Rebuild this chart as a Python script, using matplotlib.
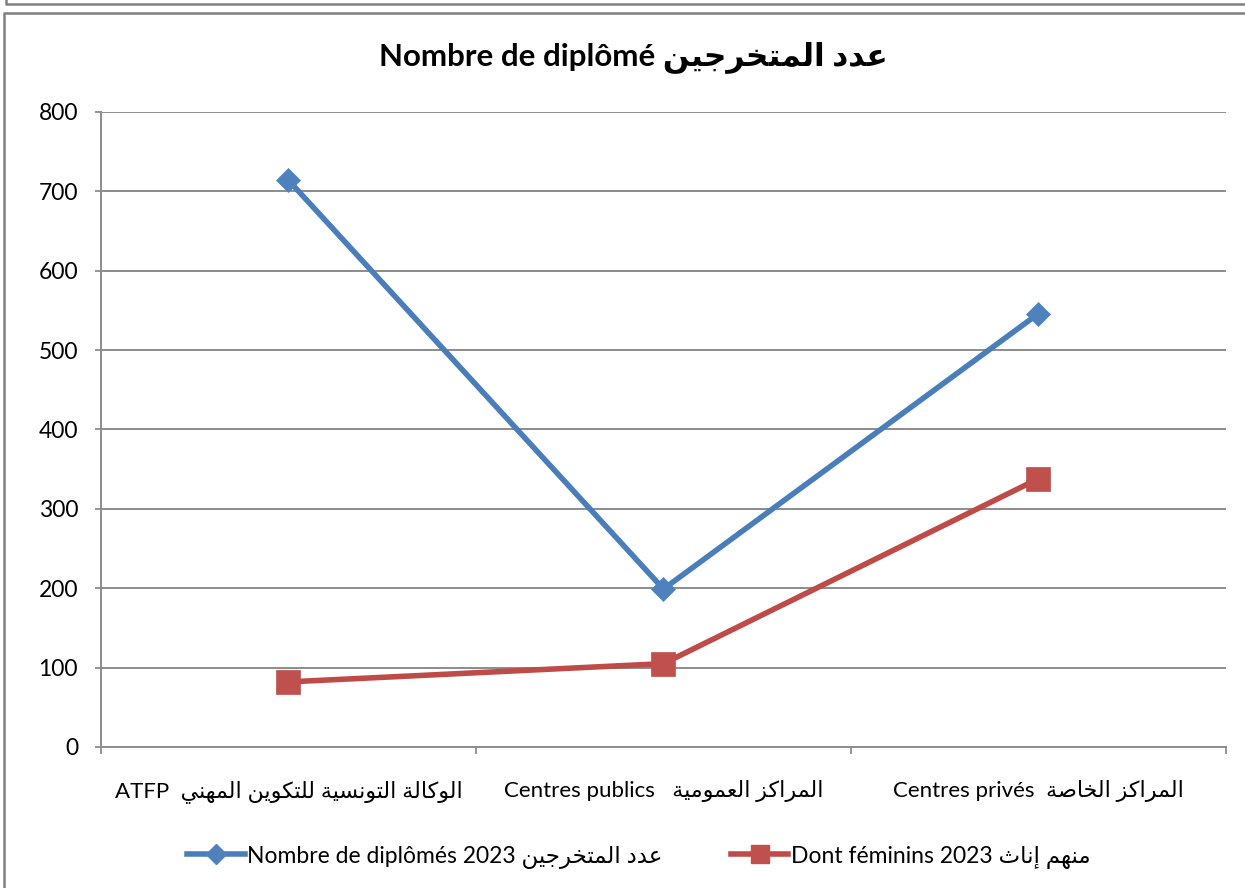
import matplotlib
matplotlib.use("Agg")
import matplotlib.pyplot as plt
from matplotlib.lines import Line2D
import numpy as np

plt.rcParams['font.family'] = ['Lato', 'DejaVu Sans']

# data
categories_fr = ["ATFP", "Centres publics", "Centres privés"]
categories_ar = ["الوكالة التونسية للتكوين المهني", "المراكز العمومية", "المراكز الخاصة"]
diplomes = [714, 199, 546]
feminins = [82, 105, 338]
y_ticks = [0, 100, 200, 300, 400, 500, 600, 700, 800]
title_fr = "Nombre de diplômé"
title_ar = "عدد المتخرجين"
legend_fr = ["Nombre de diplômés 2023", "Dont féminins 2023"]
legend_ar = ["عدد المتخرجين", "منهم إناث"]

# arabic shaping by hand (presentation forms), no reshaper available
FORMS = {
    'ا': (0xFE8D, 2), 'إ': (0xFE87, 2), 'ة': (0xFE93, 2), 'د': (0xFEA9, 2),
    'ر': (0xFEAD, 2), 'ز': (0xFEAF, 2), 'و': (0xFEED, 2),
    'ت': (0xFE95, 4), 'ث': (0xFE99, 4), 'ج': (0xFE9D, 4), 'خ': (0xFEA5, 4),
    'س': (0xFEB1, 4), 'ص': (0xFEB9, 4), 'ع': (0xFEC9, 4), 'ك': (0xFED9, 4),
    'ل': (0xFEDD, 4), 'م': (0xFEE1, 4), 'ن': (0xFEE5, 4), 'ه': (0xFEE9, 4),
    'ي': (0xFEF1, 4),
}


def shape(txt):
    out = []
    for i, c in enumerate(txt):
        if c not in FORMS:
            out.append(c)
            continue
        base, n = FORMS[c]
        prev = txt[i - 1] if i > 0 else ''
        nxt = txt[i + 1] if i + 1 < len(txt) else ''
        j_prev = prev in FORMS and FORMS[prev][1] == 4
        j_next = n == 4 and nxt in FORMS
        if j_prev and j_next:
            code = base + 3
        elif j_prev:
            code = base + 1
        elif j_next:
            code = base + 2
        else:
            code = base
        out.append(chr(code))
    return ''.join(out)[::-1]


xlabels = [
    categories_fr[0] + "  " + shape(categories_ar[0]),
    categories_fr[1] + "   " + shape(categories_ar[1]),
    categories_fr[2] + "  " + shape(categories_ar[2]),
]

blue = '#4A7EBB'
red = '#BE4B48'
grid = '#8C8C8C'

fig = plt.figure(figsize=(12.45, 8.88), dpi=100)
ax = fig.add_axes([0.0811, 0.1588, 0.9036, 0.7151])

x = np.arange(len(categories_fr))
ax.plot(x, diplomes, color=blue, lw=4, marker='D', ms=12, mfc='#4F81BD',
        mec='#4F81BD', mew=0.5, solid_capstyle='round', zorder=3)
ax.plot(x, feminins, color=red, lw=4, marker='s', ms=17, mfc='#C0504D',
        mec='#C0504D', mew=0.5, zorder=3)

ax.set_xlim(-0.5, 2.5)
ax.set_ylim(0, 800)
ax.set_yticks(y_ticks)
ax.tick_params(axis='y', labelsize=16.5, length=4.5, width=1.3, color=grid, pad=12)
ax.set_xticks([-0.5, 0.5, 1.5, 2.5])
ax.set_xticklabels([])
ax.tick_params(axis='x', which='major', length=5, width=1.3, color=grid)
ax.set_xticks(x, minor=True)
ax.set_xticklabels(xlabels, minor=True)
ax.tick_params(axis='x', which='minor', length=0, labelsize=16, pad=24)
ax.grid(axis='y', color=grid, lw=1.4)
ax.set_axisbelow(True)
for s in ['top', 'right']:
    ax.spines[s].set_visible(False)
for s in ['left', 'bottom']:
    ax.spines[s].set_color(grid)
    ax.spines[s].set_linewidth(1.4)

fig.text(0.509, 0.936, title_fr + " " + shape(title_ar), ha='center', va='center',
         fontsize=22.5, fontweight='bold')

handles = [
    Line2D([], [], color=blue, lw=4, marker='D', ms=10, mfc='#4F81BD', mec='#4F81BD'),
    Line2D([], [], color=red, lw=4, marker='s', ms=13, mfc='#C0504D', mec='#C0504D'),
]
labels = [legend_fr[0] + " " + shape(legend_ar[0]), legend_fr[1] + " " + shape(legend_ar[1])]
fig.legend(handles, labels, loc='center', bbox_to_anchor=(0.513, 1 - 857 / 888), ncol=2,
           frameon=False, fontsize=16.5, handlelength=2.5, handletextpad=0.1,
           columnspacing=3.0)

# chart frame borders
fig.add_artist(Line2D([0.003, 0.003, 1.0], [0.0, 1 - 13 / 888, 1 - 13 / 888],
                      transform=fig.transFigure, color='#808080', lw=1.8))
fig.add_artist(Line2D([0.005, 0.005, 1.0], [1.0, 1 - 4 / 888, 1 - 4 / 888],
                      transform=fig.transFigure, color='#808080', lw=1.8))

fig.savefig('out.png', dpi=100)
